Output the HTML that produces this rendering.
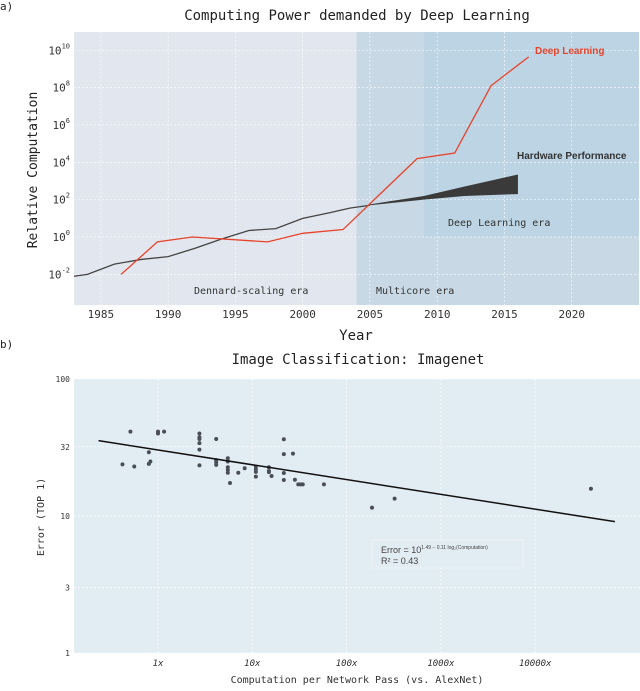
<!DOCTYPE html>
<html><head><meta charset="utf-8"><style>
body{margin:0;background:#fff;width:640px;height:686px;overflow:hidden;font-family:"Liberation Sans",sans-serif}
svg text{font-family:"DejaVu Sans Mono","Liberation Mono",monospace}
</style></head><body>
<svg id="s" width="640" height="686" xmlns="http://www.w3.org/2000/svg">
<text x="0" y="10" font-size="11" fill="#222">a)</text>
<text x="0" y="348" font-size="11" fill="#222">b)</text>
<g id="ga"></g>
<g id="gb"></g>
</svg>
<script>
// ---- Chart A data ----
const hwYears=[1983,1984,1986,1988,1990,1992,1994,1996,1998,2000,2002,2003.5,2005];
const hwLog=[-2.1,-2.0,-1.45,-1.2,-1.05,-0.6,-0.1,0.35,0.45,1.0,1.3,1.55,1.7];
const bandYears=[2005,2009,2012,2016];
const bandUpper=[1.75,2.2,2.7,3.35];
const bandLower=[1.7,2.0,2.2,2.3];
const dlYears=[1986.5,1989.2,1991.8,1997.4,2000,2003,2008.5,2011.3,2014,2016.8];
const dlLog=[-2.0,-0.26,0.0,-0.26,0.2,0.4,4.2,4.5,8.1,9.65];
const yearTicks=[1985,1990,1995,2000,2005,2010,2015,2020];
const logTicks=[-2,0,2,4,6,8,10];
// ---- Chart B data ----
const compX=[0.42,0.51,0.56,0.80,0.80,0.83,1.0,1.0,1.16,2.75,2.75,2.75,2.75,2.75,2.75,4.14,4.14,4.14,4.14,5.5,5.5,5.5,5.5,5.5,5.8,7.1,8.3,10.9,10.9,10.9,10.9,15,15,15,16,21.6,21.6,21.6,21.6,27,28.3,30.7,32.6,34.3,57.5,186,323,39000];
const errY=[23.8,41.3,23,29.2,24,25,41.3,40,41.3,40,37.5,36.5,34,30.5,23.4,36.5,25.6,24.7,23.6,26.4,25,22.7,21.7,20.7,17.4,20.7,22.3,22.9,21.9,21,19.4,22.7,21.3,20.9,19.6,36.3,28.3,20.6,18.3,28.5,18.4,17,17,17,17,11.5,13.4,15.8];
const fitA=1.482, fitB=-0.108;
const fitRange=[0.234,70000];
const xTicksB=[1,10,100,1000,10000];
const xTickLabelsB=["1x","10x","100x","1000x","10000x"];
const yTicksB=[1,3,10,32,100];

const NS="http://www.w3.org/2000/svg";
function mk(p,t,a,txt){const e=document.createElementNS(NS,t);for(const k in a)e.setAttribute(k,a[k]);if(txt!=null)e.textContent=txt;p.appendChild(e);return e;}

// Chart A
const ga=document.getElementById('ga');
const aL=74,aR=639,aT=32,aB=305;
const xa=y=>aL+(y-1983)/(2025-1983)*(aR-aL);
const ya=l=>aT+(10.98-l)/(10.98+3.64)*(aB-aT);
let r;
r=mk(ga,'rect',{x:aL,y:aT,width:xa(2004)-aL,height:aB-aT,fill:'#e2e6ee'});

r=mk(ga,'rect',{x:xa(2004),y:aT,width:aR-xa(2004),height:aB-aT,fill:'#c8d9e5'});

r=mk(ga,'rect',{x:xa(2009),y:aT,width:aR-xa(2009),height:ya(0)-aT,fill:'#bcd4e4'});

yearTicks.forEach(t=>{
  const g=mk(ga,'line',{x1:xa(t),x2:xa(t),y1:aT,y2:aB,stroke:'#fff','stroke-dasharray':'2,2','stroke-width':0.7,opacity:0.8});
  
  const tx=mk(ga,'text',{x:xa(t),y:318,'font-size':11,'text-anchor':'middle',fill:'#333'},t);
  
});
logTicks.forEach(t=>{
  const g=mk(ga,'line',{x1:aL,x2:aR,y1:ya(t),y2:ya(t),stroke:'#fff','stroke-dasharray':'2,2','stroke-width':0.7,opacity:0.8});
  
  const tx=mk(ga,'text',{x:70,y:ya(t)+4,'font-size':11,'text-anchor':'end',fill:'#333'});
  
  mk(tx,'tspan',{},'10');mk(tx,'tspan',{dy:-6,'font-size':7},String(t));
});
let bp=bandYears.map((y,i)=>xa(y)+','+ya(bandUpper[i]));
for(let i=bandYears.length-1;i>=0;i--)bp.push(xa(bandYears[i])+','+ya(bandLower[i]));
r=mk(ga,'polygon',{points:bp.join(' '),fill:'#3a3a3a'});

r=mk(ga,'polyline',{points:hwYears.map((y,i)=>xa(y)+','+ya(hwLog[i])).join(' '),fill:'none',stroke:'#444','stroke-width':1.3});

r=mk(ga,'polyline',{points:dlYears.map((y,i)=>xa(y)+','+ya(dlLog[i])).join(' '),fill:'none',stroke:'#e8432a','stroke-width':1.3});

[[357,20,14,'Computing Power demanded by Deep Learning','chart-a-title','#222','middle'],
 [356,340,14,'Year','x-axis-title','#222','middle'],
 [194,294,10,'Dennard-scaling era','dennard-era-label','#333','start'],
 [376,294,10,'Multicore era','multicore-era-label','#333','start'],
 [448,226,10,'Deep Learning era','dl-era-label','#333','start']].forEach(d=>{
  const t=mk(ga,'text',{x:d[0],y:d[1],'font-size':d[2],fill:d[5],'text-anchor':d[6]},d[3]);
  
});
r=mk(ga,'text',{x:37,y:170,'font-size':13,fill:'#222','text-anchor':'middle',transform:'rotate(-90 37 170)'},'Relative Computation');

r=mk(ga,'text',{x:535,y:54,'font-size':10,fill:'#e8432a','font-weight':'bold',style:'font-family:"Liberation Sans",sans-serif'},'Deep Learning');

r=mk(ga,'text',{x:517,y:159,'font-size':10,fill:'#333','font-weight':'bold',style:'font-family:"Liberation Sans",sans-serif'},'Hardware Performance');


// Chart B
const gb=document.getElementById('gb');
const bL=74,bR=640,bT=379,bB=653;
const xb=v=>158+Math.log10(v)*94.3;
const yb=v=>bB-Math.log10(v)/2*(bB-bT);
r=mk(gb,'rect',{x:bL,y:bT,width:bR-bL,height:bB-bT,fill:'#e2ecf3'});

xTicksB.forEach((t,i)=>{
  const g=mk(gb,'line',{x1:xb(t),x2:xb(t),y1:bT,y2:bB,stroke:'#fff','stroke-dasharray':'2,2','stroke-width':0.7});
  
  const tx=mk(gb,'text',{x:xb(t),y:666,'font-size':9,'text-anchor':'middle',fill:'#333','font-style':'italic'},xTickLabelsB[i]);
  
});
yTicksB.forEach(t=>{
  const g=mk(gb,'line',{x1:bL,x2:bR,y1:yb(t),y2:yb(t),stroke:'#fff','stroke-dasharray':'2,2','stroke-width':0.7});
  
  const tx=mk(gb,'text',{x:70,y:yb(t)+3,'font-size':8,'text-anchor':'end',fill:'#333'},t);
  
});
compX.forEach((c,i)=>{
  const p=mk(gb,'circle',{cx:xb(c),cy:yb(errY[i]),r:2,fill:'#4a4f57'});
  
});
const fy=v=>Math.pow(10,fitA+fitB*Math.log10(v));
r=mk(gb,'line',{x1:xb(fitRange[0]),y1:yb(fy(fitRange[0])),x2:xb(fitRange[1]),y2:yb(fy(fitRange[1])),stroke:'#111','stroke-width':1.5});

r=mk(gb,'rect',{x:372,y:540,width:151,height:28,fill:'#e2ecf3',stroke:'#eef3f7','stroke-width':1});

r=mk(gb,'text',{x:381,y:553,'font-size':9,fill:'#444',style:'font-family:"Liberation Sans",sans-serif'});

mk(r,'tspan',{},'Error = 10');mk(r,'tspan',{dy:-4,'font-size':5},'1.49 − 0.11 log₂(Computation)');
r=mk(gb,'text',{x:381,y:564,'font-size':9,fill:'#444',style:'font-family:"Liberation Sans",sans-serif'},'R² = 0.43');

r=mk(gb,'text',{x:358,y:364,'font-size':14,'text-anchor':'middle',fill:'#222'},'Image Classification: Imagenet');

r=mk(gb,'text',{x:357,y:683,'font-size':10,'text-anchor':'middle',fill:'#333'},'Computation per Network Pass (vs. AlexNet)');

r=mk(gb,'text',{x:44,y:517,'font-size':10,'text-anchor':'middle',fill:'#333',transform:'rotate(-90 44 517)'},'Error (TOP 1)');

</script>
</body></html>
